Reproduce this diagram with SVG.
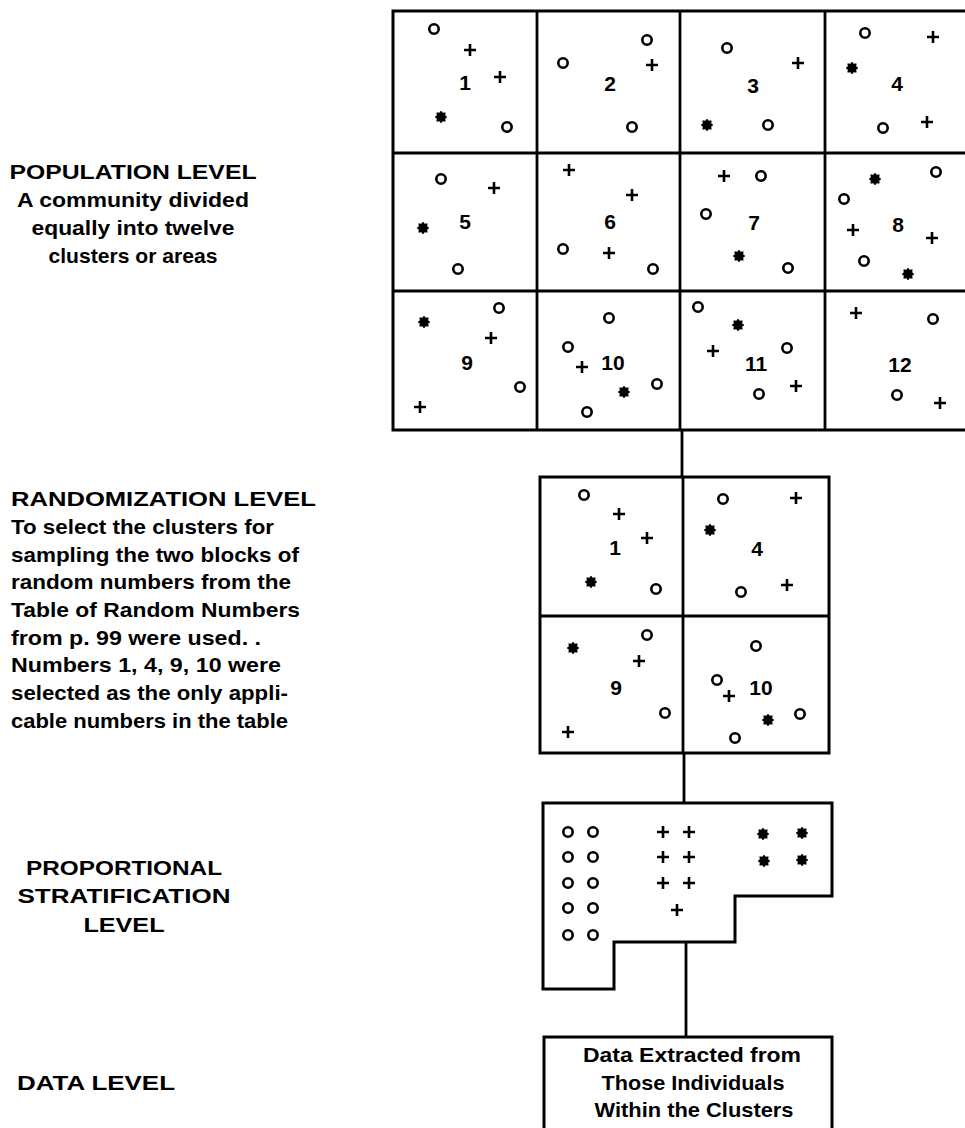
<svg xmlns="http://www.w3.org/2000/svg" width="965" height="1128" viewBox="0 0 965 1128">
<style>
.bg{fill:#fff}
.frame{fill:#fff;stroke:#000;stroke-width:3;stroke-linejoin:miter}
.div{stroke:#000;stroke-width:2.8;fill:none}
.conn{stroke:#000;stroke-width:2.8;fill:none}
.num{font-family:"Liberation Sans",Arial,sans-serif;font-weight:bold;font-size:21px;fill:#000;text-anchor:middle}
.lbl{font-family:"Liberation Sans",Arial,sans-serif;font-weight:bold;font-size:21px;fill:#000}
.mid{text-anchor:middle}
</style>
<defs>
<circle id="o" r="4.7" fill="#fff" stroke="#000" stroke-width="2.6"/>
<path id="p" d="M-6,0H6M0,-6V6" stroke="#000" stroke-width="2.6" fill="none"/>
<polygon id="s" fill="#000" stroke="#000" stroke-width="0.6" points="6,0 3.9,1.6 4.24,4.24 1.6,3.9 0,6 -1.6,3.9 -4.24,4.24 -3.9,1.6 -6,0 -3.9,-1.6 -4.24,-4.24 -1.6,-3.9 0,-6 1.6,-3.9 4.24,-4.24 3.9,-1.6"/>
</defs>
<rect class="bg" x="0" y="0" width="965" height="1128"/>

<g id="connectors">
<line class="conn" x1="682" y1="430" x2="682" y2="477"/>
<line class="conn" x1="684" y1="753" x2="684" y2="803"/>
<line class="conn" x1="686" y1="942" x2="686" y2="1037"/>
</g>

<g id="node-population">
<rect class="frame" x="393" y="11" width="580" height="419"/>
<line class="div" x1="537" y1="11" x2="537" y2="430"/>
<line class="div" x1="680" y1="11" x2="680" y2="430"/>
<line class="div" x1="825" y1="11" x2="825" y2="430"/>
<line class="div" x1="393" y1="153" x2="965" y2="153"/>
<line class="div" x1="393" y1="291" x2="965" y2="291"/>
<g class="num">
<text x="465" y="90">1</text><text x="610" y="91">2</text><text x="753" y="93">3</text><text x="897" y="91">4</text>
<text x="465" y="229">5</text><text x="610" y="229">6</text><text x="754" y="230">7</text><text x="898" y="232">8</text>
<text x="467" y="370">9</text><text x="613" y="370">10</text><text x="756" y="371">11</text><text x="900" y="372">12</text>
</g>
<use href="#o" x="434" y="29"/><use href="#p" x="470" y="50"/><use href="#p" x="500" y="77"/><use href="#s" x="441" y="117"/><use href="#o" x="507" y="127"/>
<use href="#o" x="647" y="40"/><use href="#p" x="652" y="65"/><use href="#o" x="563" y="63"/><use href="#o" x="632" y="127"/>
<use href="#o" x="727" y="48"/><use href="#p" x="798" y="63"/><use href="#s" x="707" y="125"/><use href="#o" x="768" y="125"/>
<use href="#o" x="865" y="33"/><use href="#p" x="933" y="37"/><use href="#s" x="852" y="68"/><use href="#o" x="883" y="128"/><use href="#p" x="927" y="122"/>
<use href="#o" x="441" y="179"/><use href="#p" x="494" y="188"/><use href="#s" x="423" y="228"/><use href="#o" x="458" y="269"/>
<use href="#p" x="569" y="170"/><use href="#p" x="632" y="195"/><use href="#o" x="563" y="249"/><use href="#p" x="609" y="253"/><use href="#o" x="653" y="269"/>
<use href="#p" x="724" y="176"/><use href="#o" x="761" y="176"/><use href="#o" x="706" y="214"/><use href="#s" x="739" y="256"/><use href="#o" x="788" y="268"/>
<use href="#s" x="875" y="179"/><use href="#o" x="936" y="172"/><use href="#o" x="844" y="199"/><use href="#p" x="853" y="230"/><use href="#p" x="932" y="238"/><use href="#o" x="864" y="261"/><use href="#s" x="908" y="274"/>
<use href="#s" x="424" y="322"/><use href="#o" x="499" y="308"/><use href="#p" x="491" y="338"/><use href="#o" x="520" y="387"/><use href="#p" x="420" y="407"/>
<use href="#o" x="609" y="318"/><use href="#o" x="568" y="347"/><use href="#p" x="582" y="367"/><use href="#s" x="624" y="392"/><use href="#o" x="657" y="384"/><use href="#o" x="587" y="412"/>
<use href="#o" x="698" y="307"/><use href="#s" x="738" y="325"/><use href="#p" x="713" y="351"/><use href="#o" x="787" y="348"/><use href="#o" x="759" y="394"/><use href="#p" x="796" y="386"/>
<use href="#p" x="856" y="313"/><use href="#o" x="933" y="319"/><use href="#o" x="897" y="395"/><use href="#p" x="940" y="403"/>
</g>

<g id="node-randomization">
<rect class="frame" x="540" y="477" width="289" height="276"/>
<line class="div" x1="683" y1="477" x2="683" y2="753"/>
<line class="div" x1="540" y1="616" x2="829" y2="616"/>
<g class="num">
<text x="615" y="555">1</text><text x="757" y="556">4</text><text x="616" y="695">9</text><text x="761" y="695">10</text>
</g>
<use href="#o" x="584" y="495"/><use href="#p" x="619" y="514"/><use href="#p" x="647" y="538"/><use href="#s" x="591" y="582"/><use href="#o" x="656" y="589"/>
<use href="#o" x="723" y="499"/><use href="#p" x="796" y="498"/><use href="#s" x="710" y="530"/><use href="#o" x="741" y="592"/><use href="#p" x="787" y="585"/>
<use href="#s" x="573" y="648"/><use href="#o" x="647" y="635"/><use href="#p" x="639" y="661"/><use href="#o" x="665" y="713"/><use href="#p" x="568" y="732"/>
<use href="#o" x="756" y="646"/><use href="#o" x="717" y="680"/><use href="#p" x="729" y="696"/><use href="#s" x="768" y="720"/><use href="#o" x="800" y="714"/><use href="#o" x="735" y="738"/>
</g>

<g id="node-stratification">
<path class="frame" d="M543,803 H832 V896 H735 V942 H614 V989 H543 Z"/>
<use href="#o" x="568" y="832"/><use href="#o" x="593" y="832"/>
<use href="#o" x="568" y="857"/><use href="#o" x="593" y="857"/>
<use href="#o" x="568" y="883"/><use href="#o" x="593" y="883"/>
<use href="#o" x="568" y="908"/><use href="#o" x="593" y="908"/>
<use href="#o" x="568" y="935"/><use href="#o" x="593" y="935"/>
<use href="#p" x="663" y="832"/><use href="#p" x="689" y="832"/>
<use href="#p" x="663" y="857"/><use href="#p" x="689" y="857"/>
<use href="#p" x="663" y="883"/><use href="#p" x="689" y="883"/>
<use href="#p" x="677" y="910"/>
<use href="#s" x="763" y="834"/><use href="#s" x="802" y="833"/>
<use href="#s" x="764" y="861"/><use href="#s" x="802" y="860"/>
</g>

<g id="node-data">
<rect class="frame" x="544" y="1037" width="288" height="100"/>
<text class="lbl mid" x="692" y="1062" textLength="218" lengthAdjust="spacingAndGlyphs">Data Extracted from</text>
<text class="lbl mid" x="693" y="1090" textLength="183" lengthAdjust="spacingAndGlyphs">Those Individuals</text>
<text class="lbl mid" x="694" y="1117" textLength="199" lengthAdjust="spacingAndGlyphs">Within the Clusters</text>
</g>

<g id="label-population">
<text class="lbl mid" x="133" y="179" textLength="247" lengthAdjust="spacingAndGlyphs">POPULATION LEVEL</text>
<text class="lbl mid" x="133" y="207" textLength="232" lengthAdjust="spacingAndGlyphs">A community divided</text>
<text class="lbl mid" x="133" y="235" textLength="203" lengthAdjust="spacingAndGlyphs">equally into twelve</text>
<text class="lbl mid" x="133" y="263" textLength="169" lengthAdjust="spacingAndGlyphs">clusters or areas</text>
</g>

<g id="label-randomization">
<text class="lbl" x="11" y="506" textLength="305" lengthAdjust="spacingAndGlyphs">RANDOMIZATION LEVEL</text>
<text class="lbl" x="11" y="534" textLength="263" lengthAdjust="spacingAndGlyphs">To select the clusters for</text>
<text class="lbl" x="11" y="562" textLength="288" lengthAdjust="spacingAndGlyphs">sampling the two blocks of</text>
<text class="lbl" x="11" y="589" textLength="280" lengthAdjust="spacingAndGlyphs">random numbers from the</text>
<text class="lbl" x="11" y="617" textLength="289" lengthAdjust="spacingAndGlyphs">Table of Random Numbers</text>
<text class="lbl" x="11" y="645" textLength="250" lengthAdjust="spacingAndGlyphs">from p. 99 were used. .</text>
<text class="lbl" x="11" y="672" textLength="270" lengthAdjust="spacingAndGlyphs">Numbers 1, 4, 9, 10 were</text>
<text class="lbl" x="11" y="700" textLength="277" lengthAdjust="spacingAndGlyphs">selected as the only appli-</text>
<text class="lbl" x="11" y="728" textLength="277" lengthAdjust="spacingAndGlyphs">cable numbers in the table</text>
</g>

<g id="label-stratification">
<text class="lbl mid" x="124" y="875" textLength="196" lengthAdjust="spacingAndGlyphs">PROPORTIONAL</text>
<text class="lbl mid" x="124" y="903" textLength="213" lengthAdjust="spacingAndGlyphs">STRATIFICATION</text>
<text class="lbl mid" x="124" y="932" textLength="81" lengthAdjust="spacingAndGlyphs">LEVEL</text>
</g>

<g id="label-data">
<text class="lbl" x="17" y="1090" textLength="158" lengthAdjust="spacingAndGlyphs">DATA LEVEL</text>
</g>
</svg>
